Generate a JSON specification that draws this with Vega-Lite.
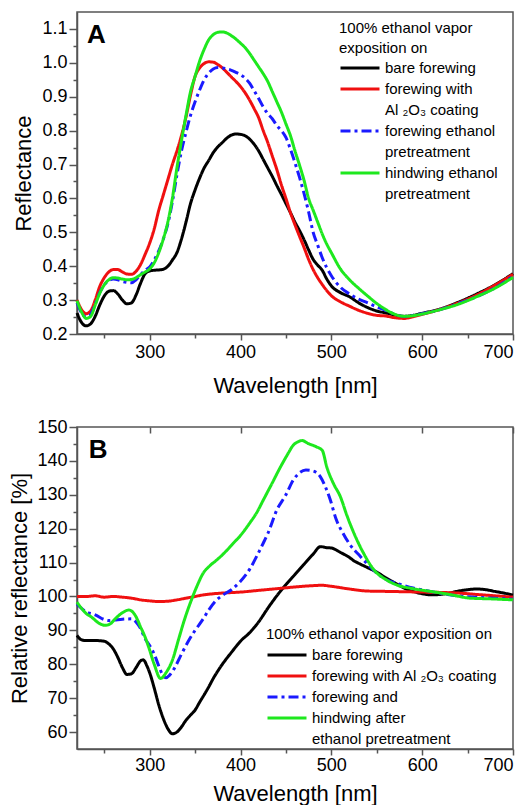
{
  "$schema": "https://vega.github.io/schema/vega-lite/v6.json",
  "padding": {"left": 8, "top": 11, "right": 5, "bottom": 0},
  "spacing": 20,
  "resolve": {"scale": {"color": "independent", "strokeDash": "independent"}, "legend": {"color": "independent", "strokeDash": "independent"}},
  "config": {
    "font": "Liberation Sans",
    "view": {"stroke": "#555555", "strokeWidth": 1.5},
    "style": {"guide-title": {"lineBreak": "\n"}},
    "axis": {"grid": false, "domainColor": "#555555", "domainWidth": 1.5, "tickColor": "#555555", "tickWidth": 1.5, "labelFont": "Liberation Sans", "labelFontSize": 18, "labelColor": "#000000", "titleFont": "Liberation Sans", "titleFontSize": 22, "titleFontWeight": "normal", "titleColor": "#000000"},
    "legend": {"labelFont": "Liberation Sans", "titleFont": "Liberation Sans", "labelColor": "#000000", "titleColor": "#000000", "labelFontSize": 15, "titleFontSize": 15, "titleFontWeight": "normal", "labelLimit": 400, "titleLimit": 400, "padding": 0}
  },
  "vconcat": [
    {
      "width": 436,
      "height": 322,
      "layer": [
        {
          "data": {"values": [
            {"wl":220,"bare":0.262,"al":0.300,"fe":0.292,"hw":0.298},
            {"wl":225,"bare":0.234,"al":0.272,"fe":0.262,"hw":0.265},
            {"wl":230,"bare":0.224,"al":0.260,"fe":0.250,"hw":0.246},
            {"wl":235,"bare":0.230,"al":0.268,"fe":0.258,"hw":0.252},
            {"wl":240,"bare":0.252,"al":0.300,"fe":0.288,"hw":0.285},
            {"wl":245,"bare":0.285,"al":0.340,"fe":0.322,"hw":0.320},
            {"wl":250,"bare":0.312,"al":0.366,"fe":0.345,"hw":0.345},
            {"wl":255,"bare":0.326,"al":0.383,"fe":0.358,"hw":0.360},
            {"wl":260,"bare":0.328,"al":0.390,"fe":0.362,"hw":0.366},
            {"wl":265,"bare":0.318,"al":0.390,"fe":0.360,"hw":0.365},
            {"wl":270,"bare":0.300,"al":0.383,"fe":0.355,"hw":0.362},
            {"wl":275,"bare":0.289,"al":0.377,"fe":0.352,"hw":0.360},
            {"wl":280,"bare":0.292,"al":0.376,"fe":0.351,"hw":0.361},
            {"wl":285,"bare":0.315,"al":0.385,"fe":0.360,"hw":0.366},
            {"wl":290,"bare":0.350,"al":0.405,"fe":0.375,"hw":0.375},
            {"wl":295,"bare":0.378,"al":0.435,"fe":0.388,"hw":0.383},
            {"wl":300,"bare":0.386,"al":0.468,"fe":0.398,"hw":0.392},
            {"wl":305,"bare":0.388,"al":0.510,"fe":0.418,"hw":0.410},
            {"wl":310,"bare":0.389,"al":0.565,"fe":0.445,"hw":0.440},
            {"wl":315,"bare":0.391,"al":0.610,"fe":0.480,"hw":0.480},
            {"wl":320,"bare":0.400,"al":0.655,"fe":0.525,"hw":0.530},
            {"wl":325,"bare":0.418,"al":0.700,"fe":0.590,"hw":0.600},
            {"wl":330,"bare":0.440,"al":0.740,"fe":0.670,"hw":0.690},
            {"wl":335,"bare":0.480,"al":0.785,"fe":0.740,"hw":0.770},
            {"wl":340,"bare":0.530,"al":0.840,"fe":0.795,"hw":0.845},
            {"wl":345,"bare":0.585,"al":0.905,"fe":0.845,"hw":0.915},
            {"wl":350,"bare":0.625,"al":0.960,"fe":0.885,"hw":0.960},
            {"wl":355,"bare":0.660,"al":0.985,"fe":0.920,"hw":1.005},
            {"wl":360,"bare":0.690,"al":0.998,"fe":0.950,"hw":1.040},
            {"wl":365,"bare":0.712,"al":1.003,"fe":0.970,"hw":1.068},
            {"wl":370,"bare":0.735,"al":1.002,"fe":0.982,"hw":1.083},
            {"wl":375,"bare":0.752,"al":0.995,"fe":0.986,"hw":1.090},
            {"wl":380,"bare":0.765,"al":0.985,"fe":0.985,"hw":1.091},
            {"wl":385,"bare":0.778,"al":0.972,"fe":0.982,"hw":1.088},
            {"wl":390,"bare":0.787,"al":0.958,"fe":0.978,"hw":1.080},
            {"wl":395,"bare":0.790,"al":0.945,"fe":0.972,"hw":1.070},
            {"wl":400,"bare":0.789,"al":0.930,"fe":0.965,"hw":1.058},
            {"wl":405,"bare":0.785,"al":0.912,"fe":0.955,"hw":1.045},
            {"wl":410,"bare":0.775,"al":0.890,"fe":0.940,"hw":1.028},
            {"wl":415,"bare":0.760,"al":0.865,"fe":0.918,"hw":1.008},
            {"wl":420,"bare":0.740,"al":0.838,"fe":0.895,"hw":0.988},
            {"wl":425,"bare":0.715,"al":0.800,"fe":0.870,"hw":0.968},
            {"wl":430,"bare":0.690,"al":0.765,"fe":0.850,"hw":0.945},
            {"wl":435,"bare":0.665,"al":0.725,"fe":0.835,"hw":0.915},
            {"wl":440,"bare":0.638,"al":0.685,"fe":0.815,"hw":0.885},
            {"wl":445,"bare":0.612,"al":0.640,"fe":0.800,"hw":0.855},
            {"wl":450,"bare":0.585,"al":0.600,"fe":0.780,"hw":0.820},
            {"wl":455,"bare":0.558,"al":0.558,"fe":0.745,"hw":0.785},
            {"wl":460,"bare":0.530,"al":0.522,"fe":0.705,"hw":0.740},
            {"wl":465,"bare":0.505,"al":0.488,"fe":0.662,"hw":0.698},
            {"wl":470,"bare":0.478,"al":0.455,"fe":0.614,"hw":0.653},
            {"wl":475,"bare":0.448,"al":0.420,"fe":0.560,"hw":0.600},
            {"wl":480,"bare":0.420,"al":0.390,"fe":0.500,"hw":0.565},
            {"wl":485,"bare":0.403,"al":0.366,"fe":0.462,"hw":0.530},
            {"wl":490,"bare":0.388,"al":0.346,"fe":0.425,"hw":0.495},
            {"wl":495,"bare":0.362,"al":0.328,"fe":0.395,"hw":0.465},
            {"wl":500,"bare":0.342,"al":0.313,"fe":0.372,"hw":0.440},
            {"wl":510,"bare":0.322,"al":0.295,"fe":0.338,"hw":0.392},
            {"wl":520,"bare":0.310,"al":0.282,"fe":0.318,"hw":0.360},
            {"wl":530,"bare":0.292,"al":0.270,"fe":0.303,"hw":0.335},
            {"wl":540,"bare":0.278,"al":0.261,"fe":0.292,"hw":0.312},
            {"wl":550,"bare":0.268,"al":0.255,"fe":0.280,"hw":0.290},
            {"wl":560,"bare":0.262,"al":0.253,"fe":0.270,"hw":0.272},
            {"wl":570,"bare":0.256,"al":0.248,"fe":0.258,"hw":0.258},
            {"wl":580,"bare":0.252,"al":0.246,"fe":0.252,"hw":0.252},
            {"wl":590,"bare":0.255,"al":0.251,"fe":0.255,"hw":0.254},
            {"wl":600,"bare":0.261,"al":0.258,"fe":0.260,"hw":0.259},
            {"wl":620,"bare":0.274,"al":0.273,"fe":0.272,"hw":0.272},
            {"wl":640,"bare":0.294,"al":0.292,"fe":0.290,"hw":0.288},
            {"wl":660,"bare":0.318,"al":0.315,"fe":0.310,"hw":0.310},
            {"wl":680,"bare":0.345,"al":0.344,"fe":0.336,"hw":0.335},
            {"wl":700,"bare":0.378,"al":0.376,"fe":0.370,"hw":0.367}
          ]},
          "transform": [{"fold": ["bare", "al", "fe", "hw"], "as": ["s", "r"]}],
          "mark": {"type": "line", "interpolate": "monotone", "strokeWidth": 3},
          "encoding": {
            "x": {"field": "wl", "type": "quantitative", "scale": {"domain": [220, 700], "nice": false, "zero": false},
                  "axis": {"orient": "bottom", "values": [300, 400, 500, 600, 700], "tickSize": 6, "labelPadding": 3, "title": "Wavelength [nm]", "titlePadding": 14}},
            "y": {"field": "r", "type": "quantitative", "scale": {"domain": [0.2, 1.15], "nice": false, "zero": false},
                  "axis": {"orient": "left", "values": [0.2, 0.3, 0.4, 0.5, 0.6, 0.7, 0.8, 0.9, 1.0, 1.1], "format": ".1f", "tickSize": 8, "labelPadding": 2, "title": "Reflectance", "titlePadding": 6}},
            "color": {"field": "s", "type": "nominal",
                      "scale": {"domain": ["bare", "al", "al2", "fe", "fe2", "hw", "hw2"], "range": ["#000000", "#f01010", "transparent", "#1a1aff", "transparent", "#1ee81e", "transparent"]},
                      "legend": {"title": "100% ethanol vapor\n\u00a0exposition on", "orient": "none", "legendX": 262, "legendY": 9, "titleLineHeight": 20, "titlePadding": 4, "rowPadding": 5, "symbolType": "M-1,0H5", "symbolSize": 169, "symbolStrokeWidth": 3, "labelOffset": 30,
                                 "labelExpr": "datum.value == 'bare' ? 'bare forewing' : datum.value == 'al' ? 'forewing with' : datum.value == 'al2' ? 'Al ₂O₃ coating' : datum.value == 'fe' ? '\u00a0forewing ethanol' : datum.value == 'hw' ? 'hindwing ethanol' : 'pretreatment'"}},
            "strokeDash": {"field": "s", "type": "nominal",
                      "scale": {"domain": ["bare", "al", "al2", "fe", "fe2", "hw", "hw2"], "range": [[1, 0], [1, 0], [1, 0], [10, 4, 3, 4], [1, 0], [1, 0], [1, 0]]},
                      "legend": {"title": "100% ethanol vapor\n\u00a0exposition on", "orient": "none", "legendX": 262, "legendY": 9, "titleLineHeight": 20, "titlePadding": 4, "rowPadding": 5, "symbolType": "M-1,0H5", "symbolSize": 169, "symbolStrokeWidth": 3, "labelOffset": 30,
                                 "labelExpr": "datum.value == 'bare' ? 'bare forewing' : datum.value == 'al' ? 'forewing with' : datum.value == 'al2' ? 'Al ₂O₃ coating' : datum.value == 'fe' ? '\u00a0forewing ethanol' : datum.value == 'hw' ? 'hindwing ethanol' : 'pretreatment'"}}
          }
        },
        {
          "data": {"values": [{}]},
          "mark": {"type": "text", "text": "A", "fontSize": 26, "fontWeight": "bold", "align": "left", "baseline": "alphabetic", "color": "#000000"},
          "encoding": {
            "x": {"datum": 231, "type": "quantitative", "axis": {"orient": "bottom", "values": [250, 350, 450, 550, 650], "tickSize": 4, "labels": false, "domain": false, "title": null}},
            "y": {"datum": 1.06, "type": "quantitative", "axis": {"orient": "left", "values": [0.25, 0.35, 0.45, 0.55, 0.65, 0.75, 0.85, 0.95, 1.05], "tickSize": 4, "labels": false, "domain": false, "title": null}}
          }
        }
      ],
      "resolve": {"axis": {"x": "independent", "y": "independent"}}
    },
    {
      "width": 436,
      "height": 322,
      "layer": [
        {
          "data": {"values": [
            {"s":"bare","wl":220,"v":88.5},{"s":"bare","wl":225,"v":87.2},{"s":"bare","wl":230,"v":87.0},{"s":"bare","wl":240,"v":87.0},{"s":"bare","wl":250,"v":86.8},{"s":"bare","wl":255,"v":86.0},{"s":"bare","wl":260,"v":84.5},{"s":"bare","wl":265,"v":82.0},{"s":"bare","wl":270,"v":79.0},{"s":"bare","wl":275,"v":77.0},{"s":"bare","wl":280,"v":77.2},{"s":"bare","wl":285,"v":79.0},{"s":"bare","wl":290,"v":81.0},{"s":"bare","wl":293,"v":81.3},{"s":"bare","wl":297,"v":79.5},{"s":"bare","wl":300,"v":77.5},{"s":"bare","wl":305,"v":73.0},{"s":"bare","wl":310,"v":68.0},{"s":"bare","wl":315,"v":64.0},{"s":"bare","wl":320,"v":61.0},{"s":"bare","wl":325,"v":59.5},{"s":"bare","wl":330,"v":60.0},{"s":"bare","wl":335,"v":61.5},{"s":"bare","wl":340,"v":63.5},{"s":"bare","wl":345,"v":65.0},{"s":"bare","wl":350,"v":66.5},{"s":"bare","wl":355,"v":68.8},{"s":"bare","wl":360,"v":71.0},{"s":"bare","wl":365,"v":73.3},{"s":"bare","wl":370,"v":75.8},{"s":"bare","wl":375,"v":78.0},{"s":"bare","wl":380,"v":80.0},{"s":"bare","wl":385,"v":81.8},{"s":"bare","wl":390,"v":83.5},{"s":"bare","wl":395,"v":85.2},{"s":"bare","wl":400,"v":86.8},{"s":"bare","wl":410,"v":89.3},{"s":"bare","wl":420,"v":92.5},{"s":"bare","wl":430,"v":96.5},{"s":"bare","wl":440,"v":100.2},{"s":"bare","wl":450,"v":103.5},{"s":"bare","wl":460,"v":106.5},{"s":"bare","wl":470,"v":109.5},{"s":"bare","wl":480,"v":112.5},{"s":"bare","wl":488,"v":114.7},{"s":"bare","wl":495,"v":114.4},{"s":"bare","wl":500,"v":114.3},{"s":"bare","wl":510,"v":113.0},{"s":"bare","wl":520,"v":111.5},{"s":"bare","wl":525,"v":110.5},{"s":"bare","wl":530,"v":109.8},{"s":"bare","wl":540,"v":108.5},{"s":"bare","wl":550,"v":107.2},{"s":"bare","wl":560,"v":105.5},{"s":"bare","wl":570,"v":104.0},{"s":"bare","wl":580,"v":102.5},{"s":"bare","wl":590,"v":101.5},{"s":"bare","wl":600,"v":100.8},{"s":"bare","wl":610,"v":100.5},{"s":"bare","wl":620,"v":100.6},{"s":"bare","wl":630,"v":101.0},{"s":"bare","wl":640,"v":101.6},{"s":"bare","wl":650,"v":102.0},{"s":"bare","wl":660,"v":102.2},{"s":"bare","wl":670,"v":102.0},{"s":"bare","wl":680,"v":101.5},{"s":"bare","wl":690,"v":101.0},{"s":"bare","wl":700,"v":100.4},
            {"s":"al","wl":220,"v":100.0},{"s":"al","wl":230,"v":100.0},{"s":"al","wl":240,"v":100.2},{"s":"al","wl":250,"v":99.8},{"s":"al","wl":260,"v":100.0},{"s":"al","wl":270,"v":99.8},{"s":"al","wl":280,"v":99.5},{"s":"al","wl":290,"v":99.0},{"s":"al","wl":300,"v":98.7},{"s":"al","wl":310,"v":98.5},{"s":"al","wl":320,"v":98.6},{"s":"al","wl":330,"v":99.0},{"s":"al","wl":340,"v":99.5},{"s":"al","wl":350,"v":100.0},{"s":"al","wl":360,"v":100.5},{"s":"al","wl":370,"v":100.8},{"s":"al","wl":380,"v":101.0},{"s":"al","wl":400,"v":101.3},{"s":"al","wl":420,"v":101.8},{"s":"al","wl":440,"v":102.3},{"s":"al","wl":460,"v":102.8},{"s":"al","wl":480,"v":103.2},{"s":"al","wl":490,"v":103.3},{"s":"al","wl":500,"v":103.0},{"s":"al","wl":520,"v":102.2},{"s":"al","wl":540,"v":101.6},{"s":"al","wl":560,"v":101.5},{"s":"al","wl":580,"v":101.4},{"s":"al","wl":600,"v":101.3},{"s":"al","wl":620,"v":101.2},{"s":"al","wl":640,"v":101.0},{"s":"al","wl":660,"v":100.6},{"s":"al","wl":680,"v":100.2},{"s":"al","wl":700,"v":99.8},
            {"s":"fe","wl":220,"v":97.8},{"s":"fe","wl":225,"v":96.5},{"s":"fe","wl":230,"v":95.5},{"s":"fe","wl":240,"v":94.6},{"s":"fe","wl":250,"v":93.2},{"s":"fe","wl":255,"v":92.9},{"s":"fe","wl":260,"v":93.0},{"s":"fe","wl":270,"v":93.3},{"s":"fe","wl":280,"v":93.4},{"s":"fe","wl":285,"v":92.5},{"s":"fe","wl":290,"v":90.5},{"s":"fe","wl":295,"v":87.5},{"s":"fe","wl":300,"v":85.5},{"s":"fe","wl":305,"v":83.0},{"s":"fe","wl":310,"v":79.5},{"s":"fe","wl":315,"v":76.5},{"s":"fe","wl":318,"v":76.0},{"s":"fe","wl":322,"v":76.8},{"s":"fe","wl":328,"v":79.2},{"s":"fe","wl":335,"v":83.0},{"s":"fe","wl":343,"v":87.0},{"s":"fe","wl":350,"v":90.0},{"s":"fe","wl":358,"v":93.0},{"s":"fe","wl":365,"v":96.0},{"s":"fe","wl":373,"v":98.8},{"s":"fe","wl":380,"v":100.3},{"s":"fe","wl":390,"v":102.0},{"s":"fe","wl":400,"v":104.5},{"s":"fe","wl":410,"v":108.0},{"s":"fe","wl":420,"v":113.0},{"s":"fe","wl":425,"v":115.7},{"s":"fe","wl":430,"v":118.5},{"s":"fe","wl":440,"v":125.5},{"s":"fe","wl":450,"v":130.0},{"s":"fe","wl":458,"v":134.3},{"s":"fe","wl":465,"v":136.5},{"s":"fe","wl":472,"v":137.3},{"s":"fe","wl":480,"v":137.0},{"s":"fe","wl":488,"v":135.3},{"s":"fe","wl":494,"v":132.0},{"s":"fe","wl":499,"v":128.4},{"s":"fe","wl":505,"v":123.0},{"s":"fe","wl":513,"v":118.6},{"s":"fe","wl":520,"v":115.5},{"s":"fe","wl":532,"v":111.8},{"s":"fe","wl":540,"v":109.5},{"s":"fe","wl":550,"v":106.9},{"s":"fe","wl":560,"v":105.0},{"s":"fe","wl":572,"v":103.9},{"s":"fe","wl":590,"v":102.5},{"s":"fe","wl":609,"v":101.5},{"s":"fe","wl":630,"v":100.5},{"s":"fe","wl":646,"v":100.0},{"s":"fe","wl":670,"v":99.6},{"s":"fe","wl":700,"v":99.2},
            {"s":"hw","wl":220,"v":98.3},{"s":"hw","wl":225,"v":96.5},{"s":"hw","wl":230,"v":95.0},{"s":"hw","wl":236,"v":93.9},{"s":"hw","wl":245,"v":92.0},{"s":"hw","wl":251,"v":91.5},{"s":"hw","wl":257,"v":92.0},{"s":"hw","wl":262,"v":93.4},{"s":"hw","wl":270,"v":95.2},{"s":"hw","wl":277,"v":96.0},{"s":"hw","wl":281,"v":95.5},{"s":"hw","wl":285,"v":94.0},{"s":"hw","wl":290,"v":91.0},{"s":"hw","wl":295,"v":88.0},{"s":"hw","wl":299,"v":85.0},{"s":"hw","wl":305,"v":80.0},{"s":"hw","wl":312,"v":75.8},{"s":"hw","wl":318,"v":77.5},{"s":"hw","wl":325,"v":81.2},{"s":"hw","wl":332,"v":87.5},{"s":"hw","wl":338,"v":92.9},{"s":"hw","wl":346,"v":99.0},{"s":"hw","wl":352,"v":103.0},{"s":"hw","wl":359,"v":106.9},{"s":"hw","wl":366,"v":109.0},{"s":"hw","wl":374,"v":110.8},{"s":"hw","wl":382,"v":112.8},{"s":"hw","wl":392,"v":115.7},{"s":"hw","wl":400,"v":118.0},{"s":"hw","wl":410,"v":121.6},{"s":"hw","wl":418,"v":124.8},{"s":"hw","wl":425,"v":128.4},{"s":"hw","wl":434,"v":133.0},{"s":"hw","wl":444,"v":138.2},{"s":"hw","wl":452,"v":142.0},{"s":"hw","wl":458,"v":144.6},{"s":"hw","wl":463,"v":145.6},{"s":"hw","wl":468,"v":146.0},{"s":"hw","wl":474,"v":145.2},{"s":"hw","wl":484,"v":144.1},{"s":"hw","wl":490,"v":143.1},{"s":"hw","wl":495,"v":138.2},{"s":"hw","wl":502,"v":133.5},{"s":"hw","wl":510,"v":129.4},{"s":"hw","wl":517,"v":124.0},{"s":"hw","wl":525,"v":118.6},{"s":"hw","wl":535,"v":113.0},{"s":"hw","wl":547,"v":107.8},{"s":"hw","wl":560,"v":105.0},{"s":"hw","wl":572,"v":103.4},{"s":"hw","wl":590,"v":102.3},{"s":"hw","wl":609,"v":101.5},{"s":"hw","wl":630,"v":100.6},{"s":"hw","wl":653,"v":99.5},{"s":"hw","wl":675,"v":99.3},{"s":"hw","wl":700,"v":99.0}
          ]},
          "mark": {"type": "line", "interpolate": "monotone", "strokeWidth": 3},
          "encoding": {
            "x": {"field": "wl", "type": "quantitative", "scale": {"domain": [220, 700], "nice": false, "zero": false},
                  "axis": {"orient": "bottom", "values": [300, 400, 500, 600, 700], "tickSize": 6, "labelPadding": 1, "title": "Wavelength [nm]", "titlePadding": 9}},
            "y": {"field": "v", "type": "quantitative", "scale": {"domain": [55, 150], "nice": false, "zero": false},
                  "axis": {"orient": "left", "values": [60, 70, 80, 90, 100, 110, 120, 130, 140, 150], "format": "d", "tickSize": 8, "labelPadding": 2, "title": "Relative reflectance [%]", "titlePadding": 5}},
            "color": {"field": "s", "type": "nominal",
                      "scale": {"domain": ["bare", "al", "fe", "hw", "hw2"], "range": ["#000000", "#f01010", "#1a1aff", "#1ee81e", "transparent"]},
                      "legend": {"title": "100% ethanol vapor exposition on", "orient": "none", "legendX": 189, "legendY": 200, "titlePadding": 5, "rowPadding": 5, "symbolType": "M-1,0H5", "symbolSize": 169, "symbolStrokeWidth": 3, "labelOffset": 30,
                                 "labelExpr": "datum.value == 'bare' ? 'bare forewing' : datum.value == 'al' ? 'forewing with Al ₂O₃ coating' : datum.value == 'fe' ? 'forewing and' : datum.value == 'hw' ? 'hindwing after' : 'ethanol pretreatment'"}},
            "strokeDash": {"field": "s", "type": "nominal",
                      "scale": {"domain": ["bare", "al", "fe", "hw", "hw2"], "range": [[1, 0], [1, 0], [10, 4, 3, 4], [1, 0], [1, 0]]},
                      "legend": {"title": "100% ethanol vapor exposition on", "orient": "none", "legendX": 189, "legendY": 200, "titlePadding": 5, "rowPadding": 5, "symbolType": "M-1,0H5", "symbolSize": 169, "symbolStrokeWidth": 3, "labelOffset": 30,
                                 "labelExpr": "datum.value == 'bare' ? 'bare forewing' : datum.value == 'al' ? 'forewing with Al ₂O₃ coating' : datum.value == 'fe' ? 'forewing and' : datum.value == 'hw' ? 'hindwing after' : 'ethanol pretreatment'"}}
          }
        },
        {
          "data": {"values": [{}]},
          "mark": {"type": "text", "text": "B", "fontSize": 26, "fontWeight": "bold", "align": "left", "baseline": "alphabetic", "color": "#000000"},
          "encoding": {
            "x": {"datum": 233, "type": "quantitative", "axis": {"orient": "bottom", "values": [250, 350, 450, 550, 650], "tickSize": 4, "labels": false, "domain": false, "title": null}},
            "y": {"datum": 141, "type": "quantitative", "axis": {"orient": "left", "values": [65, 75, 85, 95, 105, 115, 125, 135, 145], "tickSize": 4, "labels": false, "domain": false, "title": null}}
          }
        },
        {
          "data": {"values": [{}]},
          "mark": {"type": "text", "text": "", "color": "#000000"},
          "encoding": {
            "x": {"datum": 300, "type": "quantitative", "axis": {"orient": "top", "values": [300, 400, 500, 600, 700], "tickSize": -6, "labels": false, "domain": false, "title": null}}
          }
        }
      ],
      "resolve": {"axis": {"x": "independent", "y": "independent"}}
    }
  ]
}
